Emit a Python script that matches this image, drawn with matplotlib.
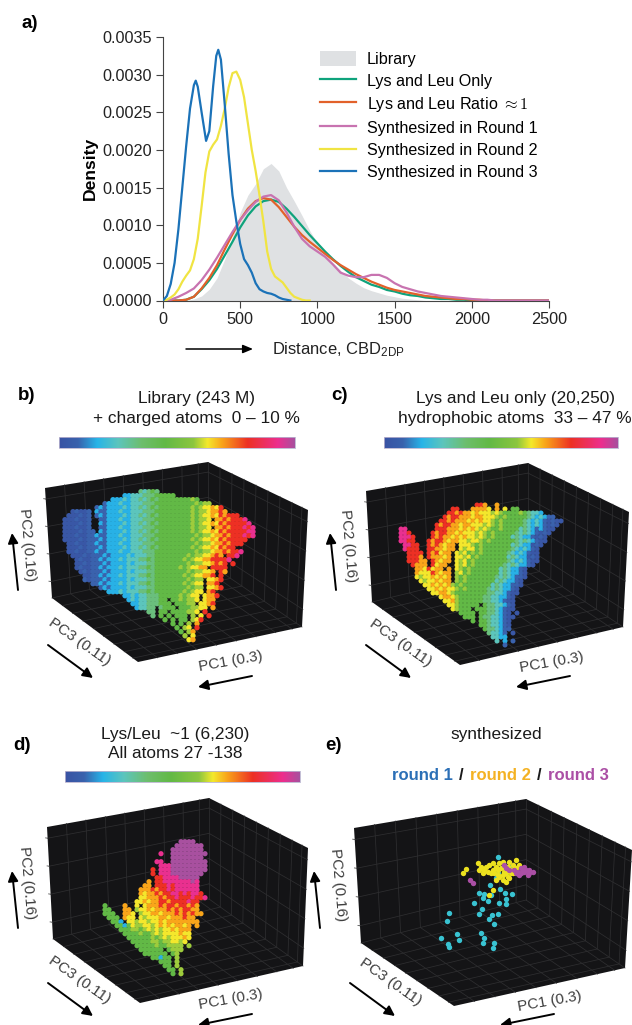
# =========================================================
# DISTANCE DENSITIES AND PC MAPS OF THE PEPTIDE LIBRARY
# =========================================================

import matplotlib
matplotlib.use("Agg")
import matplotlib.pyplot as plt
import numpy as np
from matplotlib.colors import LinearSegmentedColormap
from matplotlib.patches import Patch, Polygon

plt.rcParams["font.family"] = ["Liberation Sans", "DejaVu Sans"]
plt.rcParams["mathtext.fontset"] = "cm"

# =========================================================
# DATA: PANEL A
# =========================================================

x_broad = list(range(0, 2501, 50))
x_fine_y = list(range(0, 951, 25))
x_fine_b = [0, 25, 50, 75, 100, 125, 150, 175, 200, 212, 225, 250, 279, 300, 325, 345, 358, 375,
            400, 425, 450, 475, 500, 525, 550, 575, 600, 625, 650, 675, 700, 725, 750, 775, 800, 825]

library = [0, 0, 0, 0, .00002, .00006, .00015, .00030, .00055, .00085,
           .00117, .00140, .00155, .00175, .00182, .00172, .00150, .00132, .00113, .00093,
           .00076, .00062, .00050, .00040, .00030, .00023, .00017, .00013, .00010, .00007,
           .00005, .00003, .00002, .00001, 0, 0, 0, 0, 0, 0,
           0, 0, 0, 0, 0, 0, 0, 0, 0, 0, 0]
lys_leu_only = [0, 0, 0, .00001, .00005, .00015, .00027, .00042, .00060, .00078,
                .00097, .00113, .00125, .00132, .00134, .00131, .00122, .00111, .00099, .00087,
                .00076, .00065, .00055, .00046, .00038, .00031, .00026, .00021, .00018, .00014,
                .00012, .00009, .00007, .00006, .00004, .00003, .00002, .00002, .00001, .00001,
                0, 0, 0, 0, 0, 0, 0, 0, 0, 0, 0]
lys_leu_ratio = [0, 0, 0, .00001, .00005, .00016, .00030, .00047, .00068, .00088,
                 .00107, .00122, .00132, .00136, .00134, .00124, .00111, .00098, .00087, .00078,
                 .00070, .00062, .00054, .00047, .00041, .00035, .00030, .00025, .00021, .00017,
                 .00014, .00012, .00010, .00008, .00006, .00005, .00004, .00003, .00002, .00002,
                 .00001, .00001, 0, 0, 0, 0, 0, 0, 0, 0, 0]
round_1 = [0, .00001, .00005, .00010, .00016, .00027, .00041, .00057, .00074, .00091,
           .00107, .00120, .00131, .00138, .00140, .00133, .00117, .00098, .00082, .00072,
           .00065, .00058, .00048, .00037, .00033, .00031, .00031, .00034, .00034, .00030,
           .00023, .00018, .00015, .00012, .00010, .00008, .00006, .00005, .00004, .00003,
           .00002, .00001, .00001, 0, 0, 0, 0, 0, 0, 0, 0]
round_2 = [0, .00001, .00004, .00008, .00015, .00025, .00033, .00040, .00055, .00082,
           .00125, .00170, .00198, .00207, .00214, .00232, .00255, .00283, .00302, .00304,
           .00293, .00270, .00235, .00200, .00172, .00140, .00105, .00065, .00042, .00032,
           .00028, .00024, .00017, .00010, .00005, .00003, .00001, 0, 0]
round_3 = [0, .00006, .00022, .00050, .00095, .00150, .00205, .00255, .00286, .00292,
           .00284, .00250, .00212, .00225, .00285, .00325, .00333, .00320, .00260,
           .00195, .00140, .00105, .00075, .00055, .00047, .00037, .00023, .00015, .00012,
           .00010, .00009, .00007, .00004, .00002, .00001, 0]

legend_labels = ["Library", "Lys and Leu Only", r"Lys and Leu Ratio $\approx 1$",
                 "Synthesized in Round 1", "Synthesized in Round 2", "Synthesized in Round 3"]
x_ticks = [0, 500, 1000, 1500, 2000, 2500]
y_ticks = [0, .0005, .0010, .0015, .0020, .0025, .0030, .0035]

# =========================================================
# DATA: PC MAPS, ONE CHARACTER PER 4 PX CELL (0-b = COLOUR LEVEL)
# =========================================================

levels = [0.02, 0.08, 0.16, 0.25, 0.33, 0.45, 0.58, 0.63, 0.69, 0.80, 0.93, 1.0]

cloud_b = [
    "                   43454",
    "               2233344455555",
    "            2223233434545555555565",
    "          122232233344455555555556566",
    "        12122223233434545555555565677879",
    "  01001 2112223223334445555555556566788" + "98",
    " 000101 12122223233434545555555565677879" + "8999",
    "0001001  1122232233344455555555565667 88" + "98999a",
    "0000101  2122223233434545555555565677879" + "899999a",
    "0001001  1122232233344455555555565667 88" + "98999a9a",
    "00001011 2122223233434545555555565677879" + "899999aa",
    "000100112112223223334445555555555656678898999a9a",
    "0000101112122223233434545555555565677879899999",
    " 00100112112223223334445555555555656678898999",
    " 000101112122223233434545555555565677879899",
    " 0010011211222322333444555555555565667889899a",
    "  00010111212222323334455555555656677898 99a",
    "   01001121222323334454555555565677889999a",
    "   00101112122223233344555555556566778989 9",
    "   010011212223233344545555556567788 9999",
    "    0101112122223233344555555556566778 98",
    "     001121222323334454555555565677889 9",
    "     101112122223233344555555556566 7789",
    "       1121222323334454555555565677 889",
    "         12122223233344555555556566 7789",
    "           222323334454555555565677 89",
    "               2232334445555565677 7889",
    "                2323344455 5565667 788",
    "                 2233444555 55566 7789",
    "                  23344 4555 5556677 8",
    "                     44 55 5555667 9",
    "                      4 5 5 555 6 7 9",
    "                         5 5 55 679",
    "                           5 5 6 8",
    "                            5 67 9",
    "                             5 68",
    "                              6 7",
    "                               78",
]
cloud_c = [
    "                   998  8",
    "             99   88887 8 7 55",
    "            998988787776765555654332",
    "           9899888788777656555554323211",
    "          9989888787877656555554323210100",
    "         9899887887776765655555432321010",
    "aa       999888787876765565555343212100",
    "aa9     989988787776765655555434321010",
    "aaa9    98988787877676565555343221010",
    "aa99   989987887767765655555543432100",
    " aa99  9898788 777656555555534322010",
    " a999  9988788 76775655555554323210",
    "  9999 989788 767565655555543232100",
    "  9998 988878 776756555555534322010",
    "  99988 98788 767565555555543232100",
    "   9888 9788  76756555555543432210",
    "    8879788 8 76565555555343" + "2210",
    "    877798788 67565555555343" + "2210",
    "    767787878 656555555543432110",
    "     76778788 65655555553432210",
    "      7787878656555555534322110",
    "       77878776565555543432210",
    "        7788765555555544332100",
    "          7887655555544332210",
    "           778655555544332100",
    "            77655555 54433210",
    "             76555 5554432100",
    "               5555 55443210 0",
    "                555 544332100",
    "                  5 55433210",
    "                    55433210",
    "                     5443211",
    "                      43321 0",
    "                       3322",
    "                        3 2 1",
    "                          1",
]
cloud_d = [
    "                   bbbb",
    "                  bbbbbbb",
    "                 bbbbbbbb",
    "              a  bbbbbbbbb",
    "                 bbbbbbbb",
    "             aa  bbbbbbbbb",
    "              aaabbbbbbbbb",
    "            9 aaabbbbbbbbb",
    "            9 aaabbbbbbbb",
    "             99aaaabbbbb",
    "           8 99aaaaaaaba",
    "          88 999a9aaaaaa",
    "         8889899a9aaaaaa",
    "         87889899aa9a9aa9",
    "         778889899a999a99a",
    "        7787889989999a99",
    "5    8  7 78889899899898",
    "55   88 6778788898989988",
    "555  887 6778878889898988",
    " 555 877 76777887888988",
    "  552 776776778788888888",
    "   5525766776787878878 8",
    "    555665676767787888",
    "     55556556767777877",
    "      5555556567677787",
    "       55555665667767",
    "        555556556666 6",
    "         555555 5666",
    "          555555 56",
    "            55255 6",
    "              555 6",
    "               55 6",
    "                55 6",
    "                 5 6",
]

cyan_x = [545, 522, 553, 490, 505, 525, 500, 568, 587, 515, 473, 548, 570, 570, 498, 488, 545, 527, 518, 533,
          398, 393, 424, 374, 430, 395, 398, 495, 503, 502, 535, 530, 580, 545, 540]
cyan_y = [440, 525, 538, 550, 553, 555, 563, 550, 551, 572, 578, 580, 567, 583, 598, 612, 612, 615, 627, 642,
          610, 632, 672, 685, 690, 703, 712, 668, 685, 700, 698, 715, 470, 490, 505]
yellow_x = [450, 440, 485, 490, 500, 510, 520, 530, 505, 540, 550, 560, 535, 570, 550, 560, 575, 585, 600, 600,
            610, 590, 580, 570, 530, 520, 565, 545, 530, 585, 495, 515, 525, 555, 565, 575, 590, 545, 560, 580, 540]
yellow_y = [477, 488, 460, 480, 490, 470, 465, 480, 480, 470, 460, 455, 490, 490, 500, 510, 500, 480, 450, 475,
            465, 465, 455, 515, 540, 555, 470, 480, 460, 490, 470, 485, 490, 475, 485, 470, 490, 495, 495, 505, 510]
purple_x = [463, 470, 565, 570, 605, 615, 625, 630, 640, 650, 635, 620, 610, 600, 580, 595, 625, 640, 615]
purple_y = [510, 518, 465, 475, 485, 490, 470, 480, 490, 487, 495, 480, 495, 490, 480, 480, 485, 480, 475]

# box corners in picture pixels: top-left, top-back, top-right, bottom-right, front, bottom-left
box_b = [(45, 488), (208, 462), (308, 510), (302, 627), (138, 662), (52, 598)]
box_c = [(366, 491), (528, 463), (629, 512), (623, 627), (460, 665), (372, 602)]
box_d = [(47, 827), (209, 798), (308, 848), (303, 966), (140, 1003), (53, 939)]
box_e = [(354, 828), (526, 799), (632, 850), (625, 968), (454, 1006), (361, 943)]

# =========================================================
# HELPERS
# =========================================================

gradient = LinearSegmentedColormap.from_list("rainbow_pc", [
    (0.00, "#3953a4"), (0.08, "#3a62ad"), (0.16, "#27b4e8"), (0.25, "#5cc5bd"),
    (0.35, "#6dbe6d"), (0.45, "#62b946"), (0.57, "#8cc63f"), (0.63, "#f4e92c"),
    (0.69, "#f9a51a"), (0.80, "#ed3024"), (0.93, "#ec2e8e"), (1.00, "#a8509f")])


def cloud_points(rows, x0, y0):
    """
    Turn the character rows into picture positions and colour levels.
    """
    xs, ys, vs = [], [], []
    for r, row in enumerate(rows):
        for c, ch in enumerate(row):
            if ch != " ":
                xs.append(x0 + 4 * c)
                ys.append(y0 + 4 * r)
                vs.append(levels[int(ch, 16)])
    return xs, ys, vs


def draw_box(ax, corners):
    """
    Black PC box: two walls and the floor, with faint grid lines.
    """
    tl, tb, tr, br, fr, lb = [np.array(p, dtype=float) for p in corners]
    inner = tb + (0, 101)

    ax.add_patch(Polygon([tl, tb, tr, br, fr, lb], closed=True, fc="#141416", ec="none", zorder=1))

    grid = dict(color="#2e2e30", lw=0.55, zorder=2)
    for f in [0.1, 0.35, 0.6, 0.85]:
        a, b = tl + (lb - tl) * f, tb + (inner - tb) * f
        ax.plot([a[0], b[0]], [a[1], b[1]], **grid)
        ax.plot([a[0] - 2, a[0]], [a[1] - 0.3, a[1]], color="#555555", lw=0.6, zorder=2)
        a = tr + (br - tr) * f
        ax.plot([a[0], b[0]], [a[1], b[1]], **grid)
    for f in [0.12, 0.24, 0.36, 0.48, 0.6, 0.72, 0.84, 0.94]:
        a, b = tl + (tb - tl) * f, lb + (inner - lb) * f
        ax.plot([a[0], b[0]], [a[1], b[1]], **grid)
        c = fr + (br - fr) * f
        ax.plot([b[0], c[0]], [b[1], c[1]], **grid)
        a, b = tb + (tr - tb) * f, inner + (br - inner) * f
        ax.plot([a[0], b[0]], [a[1], b[1]], **grid)
        c = lb + (fr - lb) * f
        ax.plot([b[0], c[0]], [b[1], c[1]], **grid)
    ax.plot([tb[0], inner[0]], [tb[1], inner[1]], **grid)
    ax.plot([lb[0], inner[0]], [lb[1], inner[1]], **grid)
    ax.plot([br[0], inner[0]], [br[1], inner[1]], **grid)


def axis_labels(ax, dx, dy, arrow_dx, arrow_dy, pc1_dx=0):
    """
    PC names and arrows round one box.
    """
    style = dict(color="#3c3c3c", fontsize=10.9, ha="center", va="center")
    ax.text(27 + dx, 545 + dy, "PC2 (0.16)", rotation=-85, **style)
    ax.text(80 + dx, 642 + dy, "PC3 (0.11)", rotation=-35, **style)
    ax.text(231 + dx + pc1_dx, 661 + dy, "PC1 (0.3)", rotation=10, **style)
    arrow = dict(arrowstyle="-|>,head_width=0.3,head_length=0.6", color="black", lw=1.4, shrinkA=0, shrinkB=0)
    ax.annotate("", xy=(12 + arrow_dx, 533 + arrow_dy), xytext=(18 + arrow_dx, 590 + arrow_dy), arrowprops=arrow)
    ax.annotate("", xy=(93 + arrow_dx, 678 + arrow_dy), xytext=(48 + arrow_dx, 645 + arrow_dy), arrowprops=arrow)
    ax.annotate("", xy=(198 + arrow_dx, 687 + arrow_dy), xytext=(252 + arrow_dx, 676 + arrow_dy), arrowprops=arrow)


def color_strip(ax, x0, x1, y0, y1):
    ax.imshow(np.linspace(0, 1, 256)[None, :], cmap=gradient, extent=[x0, x1, y1, y0],
              aspect="auto", zorder=3)
    ax.plot([x0, x1, x1, x0, x0], [y0, y0, y1, y1, y0], color="#b9b3cf", lw=0.6, zorder=4)


# =========================================================
# FIGURE
# =========================================================

fig = plt.figure(figsize=(6.32, 10.25), dpi=100)

canvas = fig.add_axes([0, 0, 1, 1])

# -------- panel a --------
ax_a = fig.add_axes([163 / 632, 1 - 300.5 / 1025, 386 / 632, 263.5 / 1025])
ax_a.patch.set_alpha(0)
ax_a.fill_between(x_broad, library, color="#dfe1e3", lw=0, zorder=1)
ax_a.plot(x_broad, lys_leu_only, color="#0fa37c", lw=1.6, zorder=2)
ax_a.plot(x_broad, lys_leu_ratio, color="#e2612a", lw=1.6, zorder=3)
ax_a.plot(x_broad, round_1, color="#c873b0", lw=1.6, zorder=4)
ax_a.plot(x_fine_y, round_2, color="#f0e442", lw=1.6, zorder=5)
ax_a.plot(x_fine_b, round_3, color="#1b72b8", lw=1.6, zorder=6)
ax_a.set_xlim(0, 2500)
ax_a.set_ylim(0, 0.0035)
ax_a.set_xticks(x_ticks)
ax_a.set_yticks(y_ticks)
ax_a.set_yticklabels(["%.4f" % t for t in y_ticks])
ax_a.tick_params(labelsize=11.7, length=5, width=0.8, color="#444444", labelcolor="#222222", pad=3)
ax_a.spines["top"].set_visible(False)
ax_a.spines["right"].set_visible(False)
for side in ["left", "bottom"]:
    ax_a.spines[side].set_color("#444444")
ax_a.set_ylabel("Density", fontweight="bold", fontsize=12.6, labelpad=3, y=0.5)

handles = [Patch(fc="#dfe1e3", ec="none")] + ax_a.get_lines()
ax_a.legend(handles, legend_labels, loc="upper left", bbox_to_anchor=(0.407, 0.948), frameon=False,
            fontsize=11.6, handlelength=2.2, handleheight=1.05, handletextpad=0.68, labelspacing=0.38,
            borderpad=0, borderaxespad=0)

# -------- canvas panels, in picture pixels --------
canvas.set_xlim(0, 632)
canvas.set_ylim(1025, 0)
canvas.axis("off")

canvas.text(22, 24, "a)", fontweight="bold", fontsize=13.5, va="center")
canvas.annotate("", xy=(253, 349), xytext=(186, 349),
                arrowprops=dict(arrowstyle="-|>,head_width=0.25,head_length=0.6", color="black", lw=1.1,
                                shrinkA=0, shrinkB=0))
canvas.text(272, 350, r"Distance, CBD$_{\mathregular{2DP}}$", fontsize=11.9, va="center", color="#222222")

title = dict(fontsize=12.4, ha="center", va="center", color="#1a1a1a")

# panel b
draw_box(canvas, box_b)
xs, ys, vs = cloud_points(cloud_b, 65, 491.7)
canvas.scatter(xs, ys, c=vs, cmap=gradient, vmin=0, vmax=1, s=15, lw=0, zorder=5)
axis_labels(canvas, 0, 0, 0, 0)
color_strip(canvas, 59, 295, 437, 448)
canvas.text(27, 396, "b)", fontweight="bold", fontsize=13.5, ha="center", va="center")
canvas.text(196, 398, "Library (243 M)", **title)
canvas.text(196, 418, "+ charged atoms  0 – 10 %", **title)

# panel c
draw_box(canvas, box_c)
xs, ys, vs = cloud_points(cloud_c, 401, 505)
canvas.scatter(xs, ys, c=vs, cmap=gradient, vmin=0, vmax=1, s=13, lw=0, zorder=5)
axis_labels(canvas, 321, 1, 318, 0)
color_strip(canvas, 384, 618, 437, 448)
canvas.text(339, 396, "c)", fontweight="bold", fontsize=13.5, ha="center", va="center")
canvas.text(515, 398, "Lys and Leu only (20,250)", **title)
canvas.text(515, 418, "hydrophobic atoms  33 – 47 %", **title)

# panel d
draw_box(canvas, box_d)
xs, ys, vs = cloud_points(cloud_d, 105, 841.7)
canvas.scatter(xs, ys, c=vs, cmap=gradient, vmin=0, vmax=1, s=14, lw=0, zorder=5)
axis_labels(canvas, 0, 338, 0, 338)
color_strip(canvas, 65, 300, 771, 782)
canvas.text(22, 745, "d)", fontweight="bold", fontsize=13.5, ha="center", va="center")
canvas.text(175, 734, "Lys/Leu  ~1 (6,230)", **title)
canvas.text(175, 753, "All atoms 27 -138", **title)

# panel e
draw_box(canvas, box_e)
for px, py, col in [(cyan_x, cyan_y, "#39c3d2"), (yellow_x, yellow_y, "#ece11f"), (purple_x, purple_y, "#ab4fa5")]:
    canvas.scatter(316 + np.array(px) / 3, 710 + np.array(py) / 3, s=15, c=col, lw=0, zorder=5)
axis_labels(canvas, 311, 340, 302, 338, pc1_dx=8)
canvas.text(333, 745, "e)", fontweight="bold", fontsize=13.5, ha="center", va="center")
canvas.text(496, 735, "synthesized", **title)
bold = dict(fontsize=12, fontweight="bold", ha="center", va="center")
canvas.text(422, 776, "round 1", color="#2b6fb6", **bold)
canvas.text(461, 776, "/", color="#1a1a1a", **bold)
canvas.text(500, 776, "round 2", color="#f4b223", **bold)
canvas.text(539, 776, "/", color="#1a1a1a", **bold)
canvas.text(578, 776, "round 3", color="#ab4fa5", **bold)

fig.savefig("out.png", dpi=100)
